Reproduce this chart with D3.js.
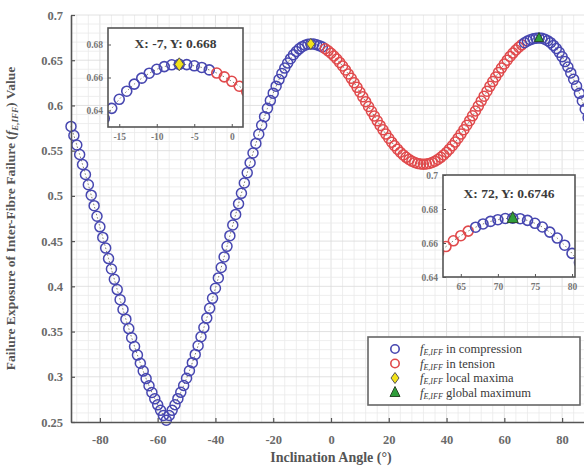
<!DOCTYPE html>
<html><head><meta charset="utf-8">
<script src="https://cdn.jsdelivr.net/npm/d3@7"></script>
<style>body{margin:0;background:#fff} svg{display:block}</style>
</head><body>
<svg id="c" width="584" height="474"></svg>
<script>
// ---------- data ----------
const angles = d3.range(-90, 91, 1);
const values = [
0.5768, 0.5668, 0.5563, 0.5457, 0.5347, 0.5236, 0.5123, 0.5008, 0.4892, 0.4775,
0.4658, 0.4541, 0.4423, 0.4307, 0.4191, 0.4077, 0.3964, 0.3853, 0.3744, 0.3637,
0.3533, 0.3432, 0.3335, 0.3240, 0.3150, 0.3063, 0.2980, 0.2901, 0.2826, 0.2756,
0.2690, 0.2629, 0.2572, 0.2520, 0.2572, 0.2629, 0.2691, 0.2758, 0.2828, 0.2904,
0.2984, 0.3067, 0.3156, 0.3247, 0.3343, 0.3442, 0.3544, 0.3649, 0.3757, 0.3867,
0.3979, 0.4093, 0.4208, 0.4325, 0.4442, 0.4560, 0.4678, 0.4795, 0.4912, 0.5028,
0.5142, 0.5255, 0.5366, 0.5474, 0.5580, 0.5682, 0.5781, 0.5876, 0.5968, 0.6054,
0.6136, 0.6213, 0.6286, 0.6352, 0.6413, 0.6468, 0.6517, 0.6560, 0.6596, 0.6626,
0.6650, 0.6666, 0.6677, 0.6680, 0.6678, 0.6671, 0.6661, 0.6646, 0.6627, 0.6604,
0.6577, 0.6547, 0.6513, 0.6476, 0.6436, 0.6393, 0.6348, 0.6300, 0.6251, 0.6200,
0.6148, 0.6095, 0.6042, 0.5988, 0.5935, 0.5882, 0.5830, 0.5779, 0.5730, 0.5683,
0.5637, 0.5594, 0.5554, 0.5517, 0.5483, 0.5453, 0.5426, 0.5403, 0.5384, 0.5369,
0.5359, 0.5352, 0.5350, 0.5352, 0.5359, 0.5369, 0.5384, 0.5403, 0.5426, 0.5453,
0.5483, 0.5517, 0.5554, 0.5595, 0.5638, 0.5683, 0.5731, 0.5781, 0.5832, 0.5885,
0.5939, 0.5993, 0.6048, 0.6103, 0.6157, 0.6211, 0.6264, 0.6315, 0.6365, 0.6413,
0.6458, 0.6501, 0.6542, 0.6579, 0.6613, 0.6643, 0.6670, 0.6693, 0.6712, 0.6727,
0.6737, 0.6744, 0.6746, 0.6743, 0.6733, 0.6716, 0.6694, 0.6664, 0.6629, 0.6587,
0.6539, 0.6485, 0.6425, 0.6360, 0.6290, 0.6214, 0.6134, 0.6049, 0.5959, 0.5866,
0.5768
];
const tensionRange = [-2, 66];            // angles where f_EIFF is in tension
const localMax = {a: -7, v: 0.668};
const globalMax = {a: 72, v: 0.6746};
const xTicks = [-80, -60, -40, -20, 0, 20, 40, 60, 80];
const yTicks = [0.25, 0.3, 0.35, 0.4, 0.45, 0.5, 0.55, 0.6, 0.65, 0.7];
const inset1XTicks = [-15, -10, -5, 0];
const inset1YTicks = [0.64, 0.66, 0.68];
const inset2XTicks = [65, 70, 75, 80];
const inset2YTicks = [0.64, 0.66, 0.68, 0.7];
const legendLabels = ["in compression", "in tension", "local maxima", "global maximum"];

// ---------- styles ----------
const FONT = '"Liberation Serif","DejaVu Serif",serif';
const BLUE = "#4747b0", RED = "#e04a4c", YEL = "#f2e21a", GRN = "#2f9e3a";
const fmtNum = d => String(+(+d).toFixed(2));

const data = angles.map((a, i) => ({a, v: values[i], t: a >= tensionRange[0] && a <= tensionRange[1]}));

const svg = d3.select("#c");
const x = d3.scaleLinear().domain([-90, 90]).range([71, 591]);
const y = d3.scaleLinear().domain([0.25, 0.7]).range([422, 15]);

// grid
const grid = svg.append("g");
grid.selectAll(".gx").data(d3.range(-88, 91, 4)).join("line")
  .attr("x1", d => x(d)).attr("x2", d => x(d)).attr("y1", y(0.7)).attr("y2", y(0.25))
  .attr("stroke", d => d % 20 === 0 ? "#dadada" : "#eaeaea").attr("stroke-width", 0.8);
grid.selectAll(".gy").data(d3.range(26, 71, 1).map(d => d / 100)).join("line")
  .attr("x1", x(-90)).attr("x2", 584).attr("y1", d => y(d)).attr("y2", d => y(d))
  .attr("stroke", d => Math.round(d * 100) % 5 === 0 ? "#dadada" : "#eaeaea").attr("stroke-width", 0.8);

function drawSeries(g, xs, ys, r, sw, dotted) {
  g.append("path").datum(data).attr("fill", "none").attr("stroke", "#807d6a")
    .attr("stroke-width", 1).attr("stroke-dasharray", dotted)
    .attr("d", d3.line().x(d => xs(d.a)).y(d => ys(d.v)));
  g.selectAll(".pt").data(data).join("circle")
    .attr("cx", d => xs(d.a)).attr("cy", d => ys(d.v)).attr("r", r)
    .attr("fill", "none").attr("stroke", d => d.t ? RED : BLUE).attr("stroke-width", sw);
}
function diamond(g, cx, cy, w, h) {
  g.append("path").attr("d", `M${cx},${cy - h / 2}L${cx + w / 2},${cy}L${cx},${cy + h / 2}L${cx - w / 2},${cy}Z`)
    .attr("fill", YEL).attr("stroke", "#555").attr("stroke-width", 1);
}
function triangle(g, cx, cy, s) {
  g.append("path").attr("d", `M${cx},${cy - s * 0.6}L${cx + s / 2},${cy + s * 0.4}L${cx - s / 2},${cy + s * 0.4}Z`)
    .attr("fill", GRN).attr("stroke", "#2a4a2a").attr("stroke-width", 1);
}

// main series
const main = svg.append("g");
drawSeries(main, x, y, 5, 1.5, "1.5,2");
diamond(main, x(localMax.a), y(localMax.v), 8, 11);
triangle(main, x(globalMax.a), y(globalMax.v), 9);

// axes
const axL = svg.append("g").attr("transform", `translate(${x(-90)},0)`)
  .call(d3.axisLeft(y).tickValues(yTicks).tickSize(-4).tickSizeOuter(0).tickPadding(8).tickFormat(fmtNum));
const axB = svg.append("g").attr("transform", `translate(0,${y(0.25)})`)
  .call(d3.axisBottom(x).tickValues(xTicks).tickSize(-4).tickSizeOuter(0).tickPadding(13).tickFormat(d => String(d)));
[axL, axB].forEach(a => {
  a.select(".domain").attr("stroke", "#555").attr("stroke-width", 1.6);
  a.selectAll(".tick line").attr("stroke", "#555").attr("stroke-width", 1.2);
  a.selectAll(".tick text").attr("font-family", FONT).attr("font-size", 12.5)
    .attr("font-weight", "bold").attr("fill", "#6a6a6a");
});

svg.append("text").attr("x", x(0)).attr("y", 462).attr("text-anchor", "middle")
  .attr("font-family", FONT).attr("font-size", 14).attr("font-weight", "bold").attr("fill", "#555")
  .text("Inclination Angle (°)");

const yl = svg.append("text").attr("transform", `translate(15,${(y(0.25) + y(0.7)) / 2}) rotate(-90)`)
  .attr("text-anchor", "middle").attr("font-family", FONT).attr("font-size", 13.5)
  .attr("font-weight", "bold").attr("fill", "#555");
yl.append("tspan").text("Failure Exposure of Inter-Fibre Failure (");
yl.append("tspan").attr("font-style", "italic").text("f");
yl.append("tspan").attr("font-style", "italic").attr("font-size", 9).attr("dy", 3).text("E,IFF");
yl.append("tspan").attr("dy", -3).text(") Value");

// insets
function inset(box, xd, yd, xt, yt, title, titleY, marker) {
  const g = svg.append("g");
  const xs = d3.scaleLinear().domain(xd).range([box[0], box[2]]);
  const ys = d3.scaleLinear().domain(yd).range([box[3], box[1]]);
  const id = "clip" + box[0];
  g.append("clipPath").attr("id", id).append("rect")
    .attr("x", box[0]).attr("y", box[1]).attr("width", box[2] - box[0]).attr("height", box[3] - box[1]);
  g.append("rect").attr("x", box[0]).attr("y", box[1]).attr("width", box[2] - box[0]).attr("height", box[3] - box[1])
    .attr("fill", "#fff");
  const inner = g.append("g").attr("clip-path", `url(#${id})`);
  drawSeries(inner, xs, ys, 5, 1.6, "1.5,2.5");
  marker(inner, xs, ys);
  g.append("text").attr("x", (box[0] + box[2]) / 2).attr("y", titleY).attr("text-anchor", "middle")
    .attr("font-family", FONT).attr("font-size", 13.5).attr("font-weight", "bold").attr("fill", "#3a3a3a")
    .text(title);
  const ax1 = g.append("g").attr("transform", `translate(${box[0]},0)`)
    .call(d3.axisLeft(ys).tickValues(yt).tickSize(-3).tickSizeOuter(0).tickPadding(5).tickFormat(fmtNum));
  const ax2 = g.append("g").attr("transform", `translate(0,${box[3]})`)
    .call(d3.axisBottom(xs).tickValues(xt).tickSize(-3).tickSizeOuter(0).tickPadding(6).tickFormat(d => String(d)));
  [ax1, ax2].forEach(a => {
    a.select(".domain").remove();
    a.selectAll(".tick line").attr("stroke", "#555");
    a.selectAll(".tick text").attr("font-family", FONT).attr("font-size", 9.5)
      .attr("font-weight", "bold").attr("fill", "#777");
  });
  g.append("rect").attr("x", box[0]).attr("y", box[1]).attr("width", box[2] - box[0]).attr("height", box[3] - box[1])
    .attr("fill", "none").attr("stroke", "#555").attr("stroke-width", 1.6);
}
inset([108, 28, 243, 127], [-16.5, 1.5], [0.63, 0.69], inset1XTicks, inset1YTicks,
  "X: -7, Y: 0.668", 48, (g, xs, ys) => diamond(g, xs(localMax.a), ys(localMax.v), 9, 13));
inset([443, 175, 575, 277], [62.6, 80.4], [0.64, 0.70], inset2XTicks, inset2YTicks,
  "X: 72, Y: 0.6746", 198, (g, xs, ys) => triangle(g, xs(globalMax.a), ys(globalMax.v), 11));

// legend
const lg = svg.append("g");
lg.append("rect").attr("x", 368).attr("y", 337).attr("width", 212).attr("height", 68)
  .attr("fill", "#fff").attr("stroke", "#666").attr("stroke-width", 1.6);
legendLabels.forEach((lab, i) => {
  const cy = 349 + i * 14.5, cx = 395;
  if (i === 0 || i === 1) lg.append("circle").attr("cx", cx).attr("cy", cy).attr("r", 4.2)
    .attr("fill", "none").attr("stroke", i === 0 ? BLUE : RED).attr("stroke-width", 1.6);
  if (i === 2) diamond(lg, cx, cy, 8, 11);
  if (i === 3) triangle(lg, cx, cy, 10);
  const t = lg.append("text").attr("x", 420).attr("y", cy + 4).attr("font-family", FONT)
    .attr("font-size", 12.5).attr("fill", "#3a3a3a");
  t.append("tspan").attr("font-style", "italic").text("f");
  t.append("tspan").attr("font-style", "italic").attr("font-size", 8).attr("dy", 2).text("E,IFF");
  t.append("tspan").attr("dy", -2).text(" " + lab);
});
</script>
</body></html>
